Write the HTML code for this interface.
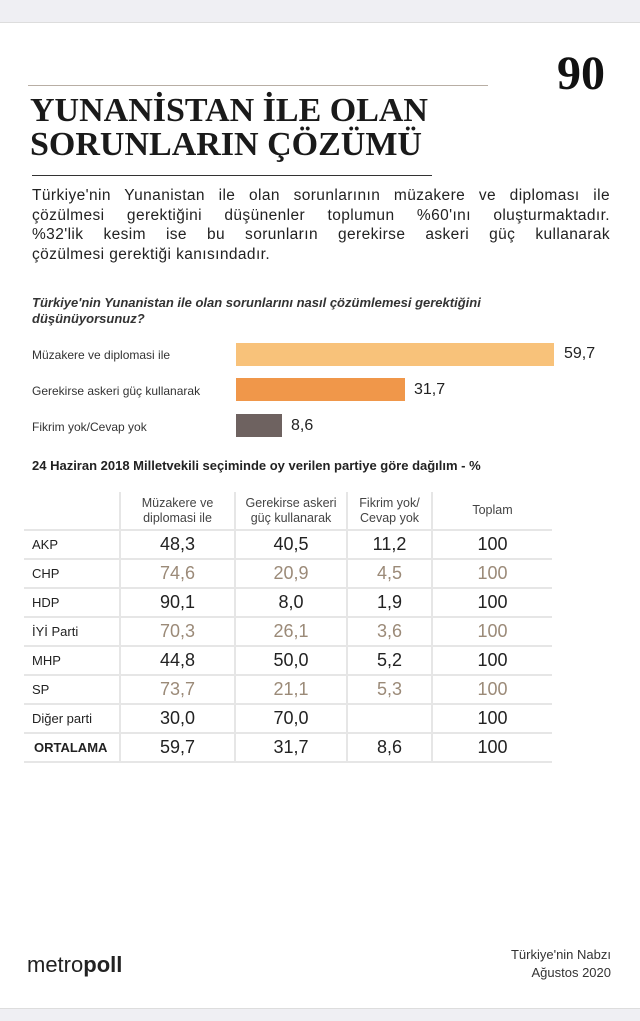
<!DOCTYPE html>
<html><head><meta charset="utf-8"><style>
*{margin:0;padding:0;box-sizing:border-box}
body{width:640px;height:1021px;background:#fff;position:relative;overflow:hidden;font-family:"Liberation Sans","DejaVu Sans",sans-serif;color:#222}
.a{position:absolute}
.serif{font-family:"Liberation Serif",serif}
.j{display:block;text-align:justify;text-align-last:justify;white-space:nowrap}
table{position:absolute;left:24px;top:492px;border-collapse:collapse;width:528px;table-layout:fixed}
td{height:29px;border-bottom:2px solid #e6e6e6;border-right:2px solid #e6e6e6;text-align:center;font-size:18px;color:#222}
td:first-child{text-align:left;font-size:13px;padding-left:8px}
td:last-child{border-right:none}
tr.h td{height:38px;font-size:12.5px;color:#444;line-height:15px}
tr.o td{color:#9b8a78}
tr.o td:first-child{color:#222}
</style></head><body>
<div class="a" style="left:0;top:0;width:640px;height:23px;background:#efeff3;border-bottom:1px solid #ddd"></div>
<div class="a" style="left:0;top:1008px;width:640px;height:13px;background:#efeff3;border-top:1px solid #ddd"></div>
<div class="a serif" style="left:557px;top:46px;font-size:48px;font-weight:bold;color:#111">90</div>
<div class="a" style="left:28px;top:85px;width:460px;height:1px;background:#b8aea4"></div>
<div class="a serif" style="left:30px;top:94px;font-size:34px;line-height:34px;font-weight:bold;color:#1a1a1a">YUNANİSTAN İLE OLAN<br>SORUNLARIN ÇÖZÜMÜ</div>
<div class="a" style="left:32px;top:175px;width:400px;height:1px;background:#333"></div>
<div class="a" style="left:32px;top:186px;width:578px;font-size:15.5px;line-height:19.5px;letter-spacing:0.4px;color:#222">
<span class="j">Türkiye'nin Yunanistan ile olan sorunlarının müzakere ve diploması ile</span>
<span class="j">çözülmesi gerektiğini düşünenler toplumun %60'ını oluşturmaktadır.</span>
<span class="j">%32'lik kesim ise bu sorunların gerekirse askeri güç kullanarak</span>
<span style="display:block">çözülmesi gerektiği kanısındadır.</span></div>
<div class="a" style="left:32px;top:295px;width:560px;font-size:13px;line-height:16px;font-weight:bold;font-style:italic;color:#333">Türkiye'nin Yunanistan ile olan sorunlarını nasıl çözümlemesi gerektiğini<br>düşünüyorsunuz?</div>
<div class="a" style="left:32px;top:348px;font-size:12px;color:#333">Müzakere ve diplomasi ile</div>
<div class="a" style="left:32px;top:384px;font-size:12px;color:#333">Gerekirse askeri güç kullanarak</div>
<div class="a" style="left:32px;top:420px;font-size:12px;color:#333">Fikrim yok/Cevap yok</div>
<div class="a" style="left:236px;top:343px;width:318px;height:23px;background:#f8c27a"></div>
<div class="a" style="left:236px;top:378px;width:169px;height:23px;background:#f0974a"></div>
<div class="a" style="left:236px;top:414px;width:46px;height:23px;background:#6e6260"></div>
<div class="a" style="left:564px;top:345px;font-size:16px">59,7</div>
<div class="a" style="left:414px;top:381px;font-size:16px">31,7</div>
<div class="a" style="left:291px;top:417px;font-size:16px">8,6</div>
<div class="a" style="left:32px;top:458px;font-size:13px;font-weight:bold;color:#222">24 Haziran 2018 Milletvekili seçiminde oy verilen partiye göre dağılım - %</div>
<table>
<colgroup><col style="width:96px"><col style="width:115px"><col style="width:112px"><col style="width:85px"><col style="width:120px"></colgroup>
<tr class="h"><td></td><td>Müzakere ve<br>diplomasi ile</td><td>Gerekirse askeri<br>güç kullanarak</td><td>Fikrim yok/<br>Cevap yok</td><td>Toplam</td></tr>
<tr><td>AKP</td><td>48,3</td><td>40,5</td><td>11,2</td><td>100</td></tr>
<tr class="o"><td>CHP</td><td>74,6</td><td>20,9</td><td>4,5</td><td>100</td></tr>
<tr><td>HDP</td><td>90,1</td><td>8,0</td><td>1,9</td><td>100</td></tr>
<tr class="o"><td>İYİ Parti</td><td>70,3</td><td>26,1</td><td>3,6</td><td>100</td></tr>
<tr><td>MHP</td><td>44,8</td><td>50,0</td><td>5,2</td><td>100</td></tr>
<tr class="o"><td>SP</td><td>73,7</td><td>21,1</td><td>5,3</td><td>100</td></tr>
<tr><td>Diğer parti</td><td>30,0</td><td>70,0</td><td></td><td>100</td></tr>
<tr><td style="font-weight:bold;padding-left:10px">ORTALAMA</td><td>59,7</td><td>31,7</td><td>8,6</td><td>100</td></tr>
</table>
<div class="a" style="left:27px;top:952px;font-size:22px;color:#222">metro<b>poll</b></div>
<div class="a" style="left:480px;top:946px;width:131px;font-size:13px;line-height:18px;text-align:right;color:#333">Türkiye'nin Nabzı<br>Ağustos 2020</div>
</body></html>
